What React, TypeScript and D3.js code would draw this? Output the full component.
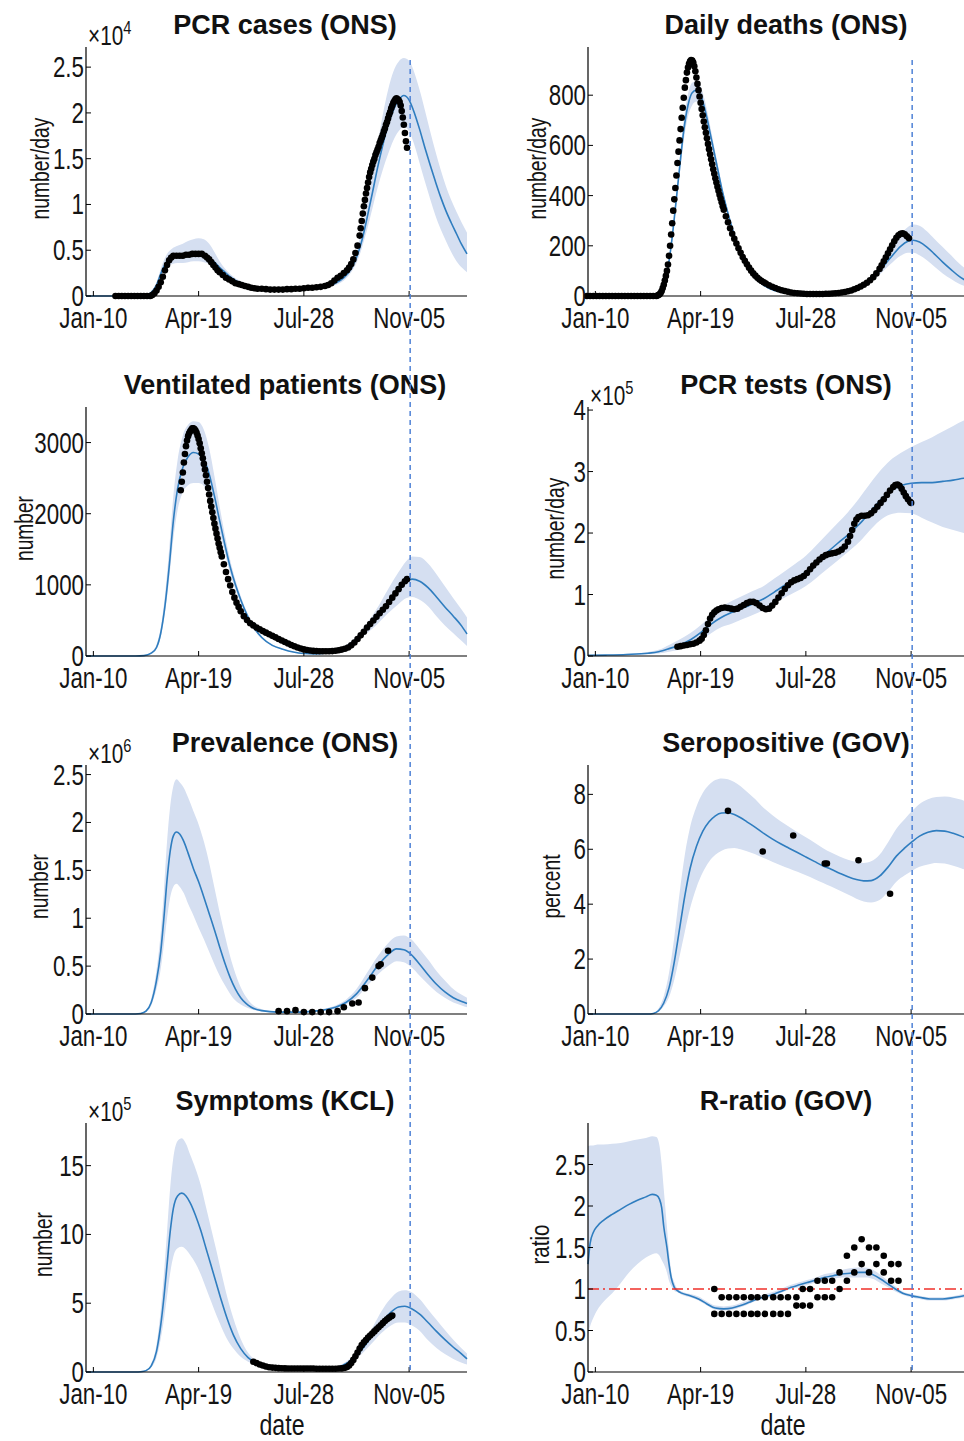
import React from "react";
import * as d3 from "d3";

// days counted from Jan-10 (2020)
type FitRow = [number, number, number, number]; // day, mean, lower, upper
type ObsRow = [number, number]; // day, value

const xTickDays = [0, 100, 200, 300];
const xTickLabels = ["Jan-10", "Apr-19", "Jul-28", "Nov-05"];
const xDomain: [number, number] = [-7, 355];
const cutoffDay = 301;

// ---- PCR cases (x1e4)
const casesTicks = [0, 0.5, 1, 1.5, 2, 2.5];
const casesFit: FitRow[] = [
    [-7, 0, 0, 0], [40, 0, 0, 0], [50, 0.01, 0.01, 0.01], [55, 0.04, 0.03, 0.05], [60, 0.12, 0.1, 0.15],
    [65, 0.27, 0.22, 0.33], [70, 0.38, 0.31, 0.46], [75, 0.43, 0.35, 0.52], [80, 0.44, 0.36, 0.55],
    [85, 0.44, 0.36, 0.57], [90, 0.45, 0.37, 0.6], [95, 0.46, 0.38, 0.62], [100, 0.46, 0.38, 0.63],
    [105, 0.45, 0.37, 0.62], [110, 0.42, 0.35, 0.57], [115, 0.37, 0.31, 0.48], [120, 0.31, 0.27, 0.38],
    [125, 0.26, 0.23, 0.3], [130, 0.21, 0.19, 0.24], [140, 0.14, 0.13, 0.16], [150, 0.1, 0.09, 0.11],
    [160, 0.08, 0.07, 0.09], [175, 0.07, 0.065, 0.08], [190, 0.075, 0.07, 0.085], [205, 0.085, 0.08, 0.095],
    [220, 0.1, 0.09, 0.115], [230, 0.14, 0.12, 0.16], [238, 0.2, 0.17, 0.24], [245, 0.3, 0.26, 0.36],
    [250, 0.42, 0.36, 0.5], [255, 0.6, 0.52, 0.72], [260, 0.85, 0.72, 1.0], [265, 1.12, 0.95, 1.32],
    [270, 1.4, 1.18, 1.66], [275, 1.65, 1.38, 1.98], [280, 1.87, 1.55, 2.25], [285, 2.03, 1.7, 2.45],
    [290, 2.14, 1.8, 2.56], [295, 2.19, 1.85, 2.6], [300, 2.14, 1.8, 2.57], [305, 2.0, 1.65, 2.44],
    [310, 1.82, 1.45, 2.25], [315, 1.62, 1.25, 2.03], [320, 1.43, 1.06, 1.8], [325, 1.25, 0.88, 1.58],
    [330, 1.08, 0.73, 1.38], [335, 0.93, 0.6, 1.2], [340, 0.8, 0.48, 1.05], [345, 0.68, 0.38, 0.92],
    [350, 0.56, 0.31, 0.8], [355, 0.46, 0.26, 0.69],
];
const casesObs: ObsRow[] = [
    [21, 0], [24, 0], [27, 0], [30, 0], [33, 0], [36, 0], [39, 0], [42, 0], [45, 0], [48, 0], [51, 0], [54, 0],
    [56, 0.01], [58, 0.03], [60, 0.06], [62, 0.1], [64, 0.15], [66, 0.21], [68, 0.28], [70, 0.34], [72, 0.39],
    [74, 0.42], [76, 0.44], [79, 0.44], [82, 0.44], [85, 0.44], [88, 0.45], [91, 0.45], [94, 0.46], [97, 0.46],
    [100, 0.46], [103, 0.46], [106, 0.44], [108, 0.42], [110, 0.4], [112, 0.37], [114, 0.34], [116, 0.31],
    [118, 0.28], [120, 0.26], [123, 0.23], [126, 0.2], [129, 0.18], [132, 0.16], [135, 0.14], [138, 0.13],
    [141, 0.12], [144, 0.11], [147, 0.1], [150, 0.09], [153, 0.085], [156, 0.08], [160, 0.08], [164, 0.075],
    [168, 0.07], [172, 0.07], [176, 0.07], [180, 0.07], [184, 0.075], [188, 0.075], [192, 0.08], [196, 0.08],
    [200, 0.085], [204, 0.09], [208, 0.09], [212, 0.095], [216, 0.1], [220, 0.11], [223, 0.12], [226, 0.14],
    [229, 0.17], [232, 0.2], [235, 0.22], [238, 0.25], [241, 0.28], [243, 0.31], [245, 0.35], [247, 0.4],
    [249, 0.47], [251, 0.55], [253, 0.66], [254, 0.74], [255, 0.82], [256, 0.9], [257, 0.98], [258, 1.05],
    [259, 1.12], [260, 1.18], [261, 1.24], [262, 1.3], [263, 1.35], [264, 1.39], [265, 1.43], [266, 1.47],
    [267, 1.5], [268, 1.54], [269, 1.57], [270, 1.6], [271, 1.63], [272, 1.67], [273, 1.7], [274, 1.73],
    [275, 1.76], [276, 1.8], [277, 1.83], [278, 1.87], [279, 1.9], [280, 1.94], [281, 1.98], [282, 2.01],
    [283, 2.05], [284, 2.08], [285, 2.11], [286, 2.13], [287, 2.15], [288, 2.16], [289, 2.15], [290, 2.14],
    [291, 2.12], [292, 2.08], [293, 2.02], [294, 1.95], [295, 1.87], [296, 1.78], [297, 1.69], [298, 1.62],
];

// ---- Daily deaths
const deathsTicks = [0, 200, 400, 600, 800];
const deathsFit: FitRow[] = [
    [-7, 0, 0, 0], [50, 0, 0, 0], [56, 2, 2, 3], [60, 8, 7, 10], [64, 30, 27, 35], [68, 90, 82, 100],
    [72, 200, 185, 215], [76, 350, 330, 372], [80, 510, 480, 540], [84, 660, 620, 700], [88, 760, 715, 805],
    [92, 810, 760, 850], [96, 820, 775, 855], [100, 800, 760, 835], [104, 745, 710, 780], [108, 670, 640, 700],
    [112, 590, 565, 615], [116, 510, 490, 530], [120, 430, 415, 445], [125, 345, 333, 357], [130, 270, 260, 280],
    [135, 205, 197, 213], [140, 152, 146, 158], [145, 112, 107, 117], [150, 80, 76, 84], [160, 42, 40, 44],
    [170, 22, 21, 24], [180, 13, 12, 14], [195, 8, 7, 9], [210, 7, 6, 8], [225, 10, 9, 11], [240, 20, 18, 23],
    [250, 35, 31, 40], [260, 60, 52, 70], [270, 100, 85, 118], [280, 150, 125, 180], [290, 198, 160, 245],
    [297, 218, 172, 275], [302, 222, 172, 285], [308, 215, 162, 280], [315, 195, 142, 258], [322, 168, 118, 228],
    [330, 135, 90, 195], [338, 105, 68, 162], [346, 77, 48, 128], [355, 55, 34, 100],
];
const deathsObs: ObsRow[] = [
    [-8, 0], [-5, 0], [-2, 0], [1, 0], [4, 0], [7, 0], [10, 0], [13, 0], [16, 0], [19, 0], [22, 0], [25, 0],
    [28, 0], [31, 0], [34, 0], [37, 0], [40, 0], [43, 0], [46, 0], [49, 0], [52, 0], [55, 0], [58, 0],
    [59, 2], [60, 4], [61, 7], [62, 12], [63, 20], [64, 32], [65, 45], [66, 62], [67, 80], [68, 100], [69, 125],
    [70, 160], [71, 200], [72, 245], [73, 290], [74, 340], [75, 385], [76, 430], [77, 480], [78, 530], [79, 575],
    [80, 620], [81, 665], [82, 710], [83, 750], [84, 790], [85, 830], [86, 860], [87, 890], [88, 910], [89, 925],
    [90, 935], [91, 940], [92, 938], [93, 930], [94, 915], [95, 895], [96, 870], [97, 845], [98, 820], [99, 795],
    [100, 770], [101, 745], [102, 720], [103, 695], [104, 672], [105, 650], [106, 628], [107, 606], [108, 585],
    [109, 565], [110, 545], [111, 525], [112, 505], [113, 487], [114, 469], [115, 452], [116, 435], [117, 419],
    [118, 403], [119, 388], [120, 373], [121, 358], [122, 344], [124, 318], [126, 294], [128, 270], [130, 248],
    [132, 228], [134, 209], [136, 190], [138, 172], [140, 155], [142, 140], [144, 126], [146, 113], [148, 101],
    [150, 90], [152, 81], [154, 73], [156, 66], [158, 60], [160, 55], [162, 50], [165, 43], [168, 37], [171, 32],
    [174, 27], [177, 23], [180, 20], [183, 17], [186, 14], [189, 12], [192, 11], [195, 10], [198, 9], [201, 8],
    [204, 8], [207, 8], [210, 8], [213, 8], [216, 8], [219, 9], [222, 9], [225, 10], [228, 11], [231, 12],
    [234, 14], [237, 16], [240, 19], [243, 22], [246, 27], [249, 32], [252, 38], [255, 45], [258, 53], [261, 63],
    [264, 75], [267, 90], [270, 108], [272, 122], [274, 138], [276, 154], [278, 170], [280, 186], [282, 202],
    [284, 218], [286, 232], [288, 242], [290, 248], [292, 250], [294, 246], [296, 238], [298, 230],
];

// ---- Ventilated patients
const ventTicks = [0, 1000, 2000, 3000];
const ventFit: FitRow[] = [
    [-7, 0, 0, 0], [40, 0, 0, 0], [48, 5, 4, 7], [55, 40, 32, 55], [60, 120, 100, 160], [64, 320, 270, 400],
    [68, 700, 600, 850], [72, 1250, 1080, 1500], [76, 1900, 1650, 2250], [80, 2350, 2050, 2750],
    [85, 2650, 2300, 3100], [90, 2800, 2400, 3250], [95, 2860, 2430, 3300], [100, 2840, 2430, 3290],
    [105, 2760, 2390, 3180], [110, 2560, 2260, 2920], [115, 2250, 2020, 2530], [120, 1900, 1730, 2100],
    [125, 1560, 1440, 1700], [130, 1250, 1160, 1350], [135, 1000, 935, 1070], [140, 790, 740, 845],
    [145, 610, 570, 650], [150, 460, 430, 490], [160, 260, 242, 278], [170, 150, 140, 160], [180, 95, 88, 102],
    [190, 55, 50, 60], [200, 35, 31, 39], [210, 30, 27, 34], [220, 40, 36, 45], [230, 70, 62, 80],
    [240, 130, 112, 150], [250, 240, 200, 280], [260, 390, 320, 460], [270, 560, 450, 680], [280, 760, 600, 940],
    [290, 940, 730, 1180], [297, 1050, 810, 1330], [303, 1080, 830, 1400], [310, 1050, 790, 1390],
    [318, 960, 700, 1300], [326, 830, 560, 1150], [334, 690, 430, 980], [342, 560, 320, 810],
    [350, 420, 210, 650], [355, 310, 140, 540],
];
const ventObs: ObsRow[] = [
    [83, 2330], [84, 2450], [85, 2580], [86, 2720], [87, 2840], [88, 2950], [89, 3030], [90, 3090], [91, 3130],
    [92, 3160], [93, 3180], [94, 3200], [95, 3200], [96, 3190], [97, 3170], [98, 3140], [99, 3100], [100, 3050],
    [101, 2990], [102, 2920], [103, 2850], [104, 2780], [105, 2700], [106, 2620], [107, 2540], [108, 2450],
    [109, 2360], [110, 2270], [111, 2180], [112, 2100], [113, 2020], [114, 1940], [115, 1860], [116, 1790],
    [117, 1720], [118, 1650], [119, 1580], [120, 1520], [121, 1460], [122, 1400], [124, 1290], [126, 1180],
    [128, 1080], [130, 990], [132, 900], [134, 820], [136, 750], [138, 690], [140, 630], [143, 560], [146, 505],
    [149, 460], [152, 430], [155, 400], [158, 375], [161, 350], [164, 328], [167, 305], [170, 283], [173, 262],
    [176, 240], [179, 218], [182, 196], [185, 175], [188, 155], [191, 136], [194, 120], [197, 105], [200, 93],
    [203, 84], [206, 77], [209, 72], [212, 69], [215, 67], [218, 66], [221, 66], [224, 67], [227, 69], [230, 73],
    [233, 80], [236, 90], [239, 102], [242, 120], [245, 150], [248, 190], [251, 240], [254, 290], [257, 340],
    [260, 400], [263, 450], [266, 500], [269, 550], [272, 600], [275, 650], [278, 700], [281, 760], [284, 820],
    [287, 880], [290, 940], [293, 1000], [296, 1050], [298, 1080],
];

// ---- PCR tests (x1e5)
const testsTicks = [0, 1, 2, 3, 4];
const testsFit: FitRow[] = [
    [-7, 0.01, 0.005, 0.015], [10, 0.015, 0.01, 0.02], [30, 0.025, 0.015, 0.035], [50, 0.045, 0.03, 0.065],
    [60, 0.07, 0.04, 0.1], [70, 0.12, 0.07, 0.18], [80, 0.18, 0.1, 0.27], [90, 0.26, 0.16, 0.37],
    [100, 0.38, 0.25, 0.5], [110, 0.52, 0.37, 0.66], [120, 0.63, 0.47, 0.8], [130, 0.71, 0.53, 0.9],
    [140, 0.78, 0.6, 0.98], [150, 0.85, 0.67, 1.06], [160, 0.93, 0.75, 1.14], [170, 1.04, 0.85, 1.26],
    [180, 1.15, 0.95, 1.38], [190, 1.25, 1.04, 1.5], [200, 1.37, 1.14, 1.63], [210, 1.52, 1.27, 1.8],
    [220, 1.68, 1.41, 1.98], [230, 1.83, 1.55, 2.16], [240, 1.97, 1.69, 2.34], [250, 2.13, 1.84, 2.55],
    [260, 2.32, 2.03, 2.78], [270, 2.52, 2.2, 3.0], [280, 2.68, 2.3, 3.18], [290, 2.77, 2.33, 3.3],
    [300, 2.81, 2.32, 3.4], [310, 2.82, 2.25, 3.48], [320, 2.82, 2.17, 3.56], [330, 2.84, 2.1, 3.65],
    [340, 2.86, 2.05, 3.74], [350, 2.89, 2.0, 3.83], [355, 2.9, 1.98, 3.86],
];
const testsObs: ObsRow[] = [
    [78, 0.15], [81, 0.16], [84, 0.17], [87, 0.18], [90, 0.19], [93, 0.2], [96, 0.22], [99, 0.25], [101, 0.28],
    [103, 0.34], [105, 0.42], [107, 0.52], [109, 0.61], [111, 0.67], [113, 0.71], [115, 0.74], [117, 0.76],
    [120, 0.78], [123, 0.79], [126, 0.78], [129, 0.77], [132, 0.76], [135, 0.77], [138, 0.8], [141, 0.83],
    [144, 0.86], [147, 0.88], [150, 0.88], [153, 0.86], [156, 0.82], [159, 0.78], [162, 0.76], [165, 0.77],
    [168, 0.82], [171, 0.88], [174, 0.95], [177, 1.02], [180, 1.09], [183, 1.15], [186, 1.2], [189, 1.23],
    [192, 1.25], [195, 1.27], [198, 1.3], [201, 1.35], [204, 1.41], [207, 1.47], [210, 1.52], [213, 1.57],
    [216, 1.61], [219, 1.64], [222, 1.66], [225, 1.67], [228, 1.68], [231, 1.7], [234, 1.73], [237, 1.78],
    [240, 1.86], [242, 1.95], [244, 2.05], [246, 2.15], [248, 2.22], [250, 2.26], [253, 2.28], [256, 2.28],
    [259, 2.29], [262, 2.32], [265, 2.37], [268, 2.43], [271, 2.49], [274, 2.55], [277, 2.62], [280, 2.69],
    [283, 2.75], [285, 2.78], [287, 2.79], [289, 2.77], [291, 2.72], [293, 2.66], [295, 2.6], [297, 2.55],
    [299, 2.51], [300, 2.49],
];

// ---- Prevalence (x1e6)
const prevTicks = [0, 0.5, 1, 1.5, 2, 2.5];
const prevFit: FitRow[] = [
    [-7, 0, 0, 0], [40, 0, 0, 0], [45, 0.005, 0.004, 0.007], [50, 0.03, 0.02, 0.04], [55, 0.12, 0.09, 0.16],
    [60, 0.35, 0.26, 0.46], [64, 0.65, 0.47, 0.85], [67, 1.0, 0.72, 1.28], [70, 1.4, 1.0, 1.8],
    [73, 1.7, 1.22, 2.17], [76, 1.86, 1.33, 2.38], [79, 1.9, 1.36, 2.45], [82, 1.88, 1.33, 2.42],
    [86, 1.8, 1.26, 2.36], [90, 1.68, 1.15, 2.26], [95, 1.52, 1.03, 2.12], [100, 1.38, 0.9, 1.98],
    [105, 1.22, 0.78, 1.8], [110, 1.05, 0.65, 1.58], [115, 0.88, 0.52, 1.32], [120, 0.7, 0.4, 1.06],
    [125, 0.53, 0.3, 0.82], [130, 0.38, 0.21, 0.6], [135, 0.26, 0.14, 0.42], [140, 0.17, 0.1, 0.28],
    [145, 0.11, 0.07, 0.18], [150, 0.07, 0.05, 0.11], [160, 0.035, 0.025, 0.05], [175, 0.02, 0.015, 0.028],
    [195, 0.02, 0.015, 0.027], [210, 0.03, 0.022, 0.038], [220, 0.045, 0.035, 0.058], [230, 0.07, 0.055, 0.09],
    [240, 0.12, 0.1, 0.15], [250, 0.21, 0.17, 0.26], [260, 0.35, 0.29, 0.43], [270, 0.5, 0.41, 0.6],
    [280, 0.62, 0.5, 0.74], [288, 0.68, 0.55, 0.81], [295, 0.67, 0.54, 0.82], [302, 0.62, 0.49, 0.78],
    [310, 0.52, 0.4, 0.68], [318, 0.41, 0.31, 0.57], [326, 0.31, 0.23, 0.45], [334, 0.23, 0.17, 0.35],
    [342, 0.17, 0.12, 0.26], [350, 0.13, 0.09, 0.2], [355, 0.11, 0.07, 0.17],
];
const prevObs: ObsRow[] = [
    [176, 0.03], [184, 0.03], [192, 0.04], [200, 0.02], [208, 0.02], [216, 0.02], [224, 0.02], [232, 0.03],
    [238, 0.07], [246, 0.11], [252, 0.12], [258, 0.27], [265, 0.38], [271, 0.5], [273, 0.52], [280, 0.66],
];

// ---- Seropositive (percent)
const seroTicks = [0, 2, 4, 6, 8];
const seroFit: FitRow[] = [
    [-7, 0, 0, 0], [50, 0, 0, 0], [55, 0.02, 0.01, 0.03], [60, 0.12, 0.08, 0.2], [65, 0.4, 0.28, 0.65],
    [70, 0.95, 0.62, 1.5], [75, 1.9, 1.25, 2.8], [80, 3.1, 2.1, 4.4], [85, 4.3, 3.0, 5.8], [90, 5.3, 3.85, 6.8],
    [96, 6.1, 4.6, 7.55], [102, 6.65, 5.15, 8.05], [108, 7.0, 5.55, 8.35], [114, 7.22, 5.8, 8.52],
    [120, 7.32, 5.95, 8.58], [126, 7.33, 6.03, 8.55], [132, 7.27, 6.05, 8.45], [138, 7.15, 6.0, 8.3],
    [144, 7.0, 5.93, 8.1], [152, 6.8, 5.82, 7.82], [160, 6.58, 5.68, 7.5], [168, 6.38, 5.55, 7.25],
    [176, 6.2, 5.42, 7.02], [184, 6.04, 5.3, 6.82], [192, 5.88, 5.18, 6.62], [200, 5.72, 5.05, 6.44],
    [208, 5.56, 4.92, 6.25], [216, 5.4, 4.78, 6.05], [224, 5.27, 4.64, 5.88], [232, 5.13, 4.5, 5.74],
    [240, 5.0, 4.35, 5.62], [248, 4.9, 4.2, 5.54], [255, 4.85, 4.1, 5.5], [262, 4.86, 4.06, 5.56],
    [270, 5.02, 4.15, 5.8], [278, 5.35, 4.45, 6.25], [286, 5.75, 4.82, 6.75], [294, 6.05, 5.05, 7.1],
    [301, 6.28, 5.22, 7.4], [308, 6.48, 5.36, 7.65], [316, 6.62, 5.45, 7.82], [324, 6.68, 5.5, 7.9],
    [332, 6.66, 5.48, 7.92], [340, 6.58, 5.4, 7.88], [348, 6.47, 5.3, 7.8], [355, 6.35, 5.2, 7.7],
];
const seroObs: ObsRow[] = [
    [126, 7.4], [159, 5.92], [188, 6.5], [218, 5.48], [220, 5.48], [250, 5.6], [280, 4.38],
];

// ---- Symptoms (x1e5)
const sympTicks = [0, 5, 10, 15];
const sympFit: FitRow[] = [
    [-7, 0, 0, 0], [40, 0, 0, 0], [45, 0.02, 0.015, 0.03], [50, 0.1, 0.07, 0.14], [55, 0.45, 0.32, 0.6],
    [60, 1.5, 1.05, 2.0], [64, 3.4, 2.4, 4.5], [67, 5.4, 3.8, 7.1], [70, 7.8, 5.5, 10.2], [73, 10.2, 7.2, 13.4],
    [76, 11.9, 8.4, 15.6], [80, 12.8, 9.0, 16.8], [84, 13.0, 9.1, 17.0], [88, 12.8, 8.9, 16.6],
    [92, 12.3, 8.5, 15.8], [97, 11.4, 7.9, 14.8], [102, 10.3, 7.1, 13.6], [107, 9.0, 6.1, 12.0],
    [112, 7.7, 5.1, 10.4], [117, 6.4, 4.1, 8.8], [122, 5.1, 3.2, 7.1], [127, 3.9, 2.4, 5.5], [133, 2.7, 1.7, 3.9],
    [140, 1.7, 1.1, 2.4], [147, 1.05, 0.75, 1.4], [155, 0.65, 0.5, 0.82], [165, 0.4, 0.33, 0.48],
    [180, 0.25, 0.21, 0.3], [200, 0.2, 0.17, 0.24], [220, 0.22, 0.19, 0.26], [232, 0.35, 0.3, 0.42],
    [242, 0.7, 0.58, 0.85], [250, 1.2, 0.98, 1.45], [258, 1.9, 1.55, 2.3], [266, 2.75, 2.2, 3.35],
    [274, 3.6, 2.85, 4.45], [282, 4.3, 3.35, 5.3], [290, 4.72, 3.6, 5.85], [296, 4.78, 3.6, 5.95],
    [302, 4.62, 3.42, 5.82], [310, 4.2, 3.0, 5.3], [318, 3.6, 2.3, 4.55], [326, 2.95, 1.75, 3.8],
    [334, 2.35, 1.3, 3.05], [342, 1.8, 0.95, 2.35], [350, 1.3, 0.68, 1.7], [355, 0.95, 0.55, 1.35],
];
const sympObs: ObsRow[] = [
    [152, 0.75], [155, 0.65], [158, 0.55], [161, 0.47], [164, 0.4], [167, 0.35], [170, 0.32], [173, 0.3],
    [176, 0.28], [179, 0.27], [182, 0.26], [185, 0.25], [188, 0.25], [191, 0.25], [194, 0.25], [197, 0.25],
    [200, 0.25], [203, 0.25], [206, 0.25], [209, 0.25], [212, 0.24], [215, 0.24], [218, 0.24], [221, 0.24],
    [224, 0.24], [227, 0.24], [230, 0.24], [233, 0.25], [236, 0.26], [239, 0.3], [241, 0.36], [243, 0.48],
    [245, 0.65], [247, 0.88], [249, 1.15], [251, 1.42], [253, 1.7], [255, 1.95], [257, 2.15], [259, 2.33],
    [261, 2.5], [263, 2.65], [265, 2.8], [267, 2.95], [269, 3.1], [271, 3.25], [273, 3.4], [275, 3.55],
    [277, 3.7], [279, 3.83], [281, 3.95], [283, 4.05], [284, 4.1],
];

// ---- R-ratio
const ratioTicks = [0, 0.5, 1, 1.5, 2, 2.5];
const ratioFit: FitRow[] = [
    [-7, 1.3, 0.45, 2.72], [-5, 1.55, 0.55, 2.73], [-2, 1.68, 0.65, 2.73], [2, 1.76, 0.75, 2.74],
    [8, 1.83, 0.85, 2.74], [16, 1.9, 0.95, 2.75], [24, 1.96, 1.07, 2.76], [32, 2.02, 1.2, 2.78],
    [40, 2.07, 1.3, 2.8], [48, 2.11, 1.38, 2.82], [54, 2.14, 1.42, 2.84], [58, 2.13, 1.43, 2.83],
    [61, 2.08, 1.4, 2.72], [63, 1.98, 1.35, 2.5], [65, 1.75, 1.3, 2.2], [68, 1.5, 1.2, 1.75],
    [70, 1.3, 1.1, 1.45], [72, 1.14, 1.04, 1.22], [75, 1.02, 0.98, 1.08], [78, 0.98, 0.96, 1.0],
    [82, 0.95, 0.93, 0.97], [90, 0.92, 0.9, 0.94], [98, 0.88, 0.86, 0.91], [106, 0.82, 0.8, 0.85],
    [114, 0.77, 0.75, 0.8], [122, 0.76, 0.74, 0.79], [130, 0.77, 0.75, 0.8], [138, 0.8, 0.78, 0.83],
    [146, 0.84, 0.82, 0.87], [154, 0.88, 0.86, 0.91], [162, 0.91, 0.89, 0.94], [170, 0.94, 0.92, 0.97],
    [178, 0.98, 0.96, 1.01], [186, 1.02, 1.0, 1.05], [194, 1.05, 1.02, 1.08], [202, 1.08, 1.05, 1.11],
    [210, 1.11, 1.08, 1.14], [218, 1.14, 1.1, 1.18], [226, 1.16, 1.12, 1.2], [234, 1.18, 1.14, 1.23],
    [242, 1.19, 1.14, 1.25], [250, 1.2, 1.14, 1.26], [257, 1.2, 1.14, 1.26], [264, 1.17, 1.12, 1.23],
    [271, 1.12, 1.07, 1.17], [278, 1.06, 1.02, 1.1], [285, 1.0, 0.97, 1.03], [292, 0.95, 0.93, 0.97],
    [300, 0.92, 0.9, 0.94], [308, 0.9, 0.88, 0.92], [318, 0.88, 0.86, 0.9], [330, 0.88, 0.86, 0.9],
    [342, 0.9, 0.88, 0.92], [355, 0.93, 0.91, 0.95],
];
// weekly estimates: day, lower, upper
const ratioObsDays = [113, 120, 127, 134, 141, 148, 154, 161, 169, 176, 183, 191, 197, 204, 211, 218, 225, 232, 239, 246, 253, 260, 267, 274, 281, 288];
const ratioObsLow = [0.7, 0.7, 0.7, 0.7, 0.7, 0.7, 0.7, 0.7, 0.7, 0.7, 0.7, 0.8, 0.8, 0.8, 0.9, 0.9, 0.9, 1.0, 1.1, 1.2, 1.3, 1.2, 1.3, 1.2, 1.1, 1.1];
const ratioObsHigh = [1.0, 0.9, 0.9, 0.9, 0.9, 0.9, 0.9, 0.9, 0.9, 0.9, 0.9, 0.9, 1.0, 1.0, 1.1, 1.1, 1.1, 1.2, 1.4, 1.5, 1.6, 1.5, 1.5, 1.4, 1.3, 1.3];
const ratioObs: ObsRow[] = ratioObsDays.flatMap((d, i) => [[d, ratioObsLow[i]], [d, ratioObsHigh[i]]] as ObsRow[]);

// ---- layout
const PLOT_W = 381;
const PLOT_H = 249;
const COL_LEFT = [86, 588];
const ROW_TOP = [47, 407, 765, 1123];
const TITLE_X = [285, 786];

const FONT = "'Liberation Sans', Arial, Helvetica, sans-serif";
const NARROW = 0.77;
const TICK_FS = 29;
const BAND = "#d5dff1";
const LINE = "#2f7dbf";
const VLINE = "#4f82d6";
const INK = "#141414";

interface PanelDef {
    col: number;
    row: number;
    title: string;
    yLabel: string;
    yLabelX: number;
    yLabelLen: number;
    yMax: number;
    yTicks: number[];
    exponent?: string;
    fit: FitRow[];
    obs: ObsRow[];
    refOne?: boolean;
}

const panels: PanelDef[] = [
    { col: 0, row: 0, title: "PCR cases (ONS)", yLabel: "number/day", yLabelX: 49, yLabelLen: 102, yMax: 2.72, yTicks: casesTicks, exponent: "4", fit: casesFit, obs: casesObs },
    { col: 1, row: 0, title: "Daily deaths (ONS)", yLabel: "number/day", yLabelX: 546, yLabelLen: 102, yMax: 992, yTicks: deathsTicks, fit: deathsFit, obs: deathsObs },
    { col: 0, row: 1, title: "Ventilated patients (ONS)", yLabel: "number", yLabelX: 33, yLabelLen: 65, yMax: 3500, yTicks: ventTicks, fit: ventFit, obs: ventObs },
    { col: 1, row: 1, title: "PCR tests (ONS)", yLabel: "number/day", yLabelX: 564, yLabelLen: 102, yMax: 4.05, yTicks: testsTicks, exponent: "5", fit: testsFit, obs: testsObs },
    { col: 0, row: 2, title: "Prevalence (ONS)", yLabel: "number", yLabelX: 48, yLabelLen: 65, yMax: 2.6, yTicks: prevTicks, exponent: "6", fit: prevFit, obs: prevObs },
    { col: 1, row: 2, title: "Seropositive (GOV)", yLabel: "percent", yLabelX: 560, yLabelLen: 64, yMax: 9.07, yTicks: seroTicks, fit: seroFit, obs: seroObs },
    { col: 0, row: 3, title: "Symptoms (KCL)", yLabel: "number", yLabelX: 52, yLabelLen: 65, yMax: 18.1, yTicks: sympTicks, exponent: "5", fit: sympFit, obs: sympObs },
    { col: 1, row: 3, title: "R-ratio (GOV)", yLabel: "ratio", yLabelX: 549, yLabelLen: 40, yMax: 3.0, yTicks: ratioTicks, fit: ratioFit, obs: ratioObs, refOne: true },
];

const xScaleFor = (col: number) =>
    d3.scaleLinear().domain(xDomain).range([COL_LEFT[col], COL_LEFT[col] + PLOT_W]);

const Panel: React.FC<{ p: PanelDef }> = ({ p }) => {
    const left = COL_LEFT[p.col];
    const top = ROW_TOP[p.row];
    const bottom = top + PLOT_H;
    const x = xScaleFor(p.col);
    const y = d3.scaleLinear().domain([0, p.yMax]).range([bottom, top]);

    const area = d3.area<FitRow>()
        .x(d => x(d[0]))
        .y0(d => y(d[2]))
        .y1(d => y(d[3]))
        .curve(d3.curveMonotoneX);
    const line = d3.line<FitRow>()
        .x(d => x(d[0]))
        .y(d => y(d[1]))
        .curve(d3.curveMonotoneX);

    const yLabelCenter = (top + bottom) / 2 - 3;

    return (
        <g>
            <path d={area(p.fit) || ""} fill={BAND} stroke="none" />
            <path d={line(p.fit) || ""} fill="none" stroke={LINE} strokeWidth={1.6} />
            {p.refOne && (
                <line x1={left} x2={left + PLOT_W} y1={y(1)} y2={y(1)}
                    stroke="#f0302a" strokeWidth={1.5} strokeDasharray="11,4,2,4" />
            )}
            {p.obs.map((d, i) => (
                <circle key={i} cx={x(d[0])} cy={y(d[1])} r={3.3} fill="#000" />
            ))}

            {/* axes */}
            <line x1={left} x2={left} y1={top} y2={bottom} stroke="#000" strokeWidth={1.2} />
            <line x1={left} x2={left + PLOT_W} y1={bottom} y2={bottom} stroke="#000" strokeWidth={1.2} />
            {xTickDays.map((d, i) => (
                <g key={"xt" + i}>
                    <line x1={x(d)} x2={x(d)} y1={bottom} y2={bottom - 5} stroke="#000" strokeWidth={1} />
                    <text transform={`translate(${x(d)},${bottom + 32}) scale(${NARROW},1)`}
                        textAnchor="middle" fontSize={TICK_FS} fontFamily={FONT} fill={INK}>
                        {xTickLabels[i]}
                    </text>
                </g>
            ))}
            {p.yTicks.map((v, i) => (
                <g key={"yt" + i}>
                    <line x1={left} x2={left + 5} y1={y(v)} y2={y(v)} stroke="#000" strokeWidth={1} />
                    <text transform={`translate(${left - 2},${y(v) + 10}) scale(${NARROW},1)`}
                        textAnchor="end" fontSize={TICK_FS} fontFamily={FONT} fill={INK}>
                        {String(v)}
                    </text>
                </g>
            ))}
            {p.exponent && (
                <text transform={`translate(${left + 2},${top - 2}) scale(${NARROW},1)`}
                    fontSize={27} fontFamily={FONT} fill={INK}>
                    ×10<tspan fontSize={19} dy={-11}>{p.exponent}</tspan>
                </text>
            )}
            <text transform={`translate(${p.yLabelX},${yLabelCenter}) rotate(-90)`}
                textAnchor="middle" fontSize={25} fontFamily={FONT} fill={INK}
                textLength={p.yLabelLen} lengthAdjust="spacingAndGlyphs">
                {p.yLabel}
            </text>
            <text x={TITLE_X[p.col]} y={top - 13} textAnchor="middle" fontSize={27}
                fontWeight="bold" fontFamily={FONT} fill="#111">
                {p.title}
            </text>
            {p.row === 3 && (
                <text transform={`translate(${p.col === 0 ? 282 : 783},1435) scale(${NARROW},1)`}
                    textAnchor="middle" fontSize={30} fontFamily={FONT} fill={INK}>
                    date
                </text>
            )}
        </g>
    );
};

const App: React.FC = () => {
    return (
        <svg width={964} height={1441} style={{ position: "absolute", left: 0, top: 0, background: "#fff" }}>
            <rect x={0} y={0} width={964} height={1441} fill="#fff" />
            {panels.map((p, i) => <Panel key={i} p={p} />)}
            {[0, 1].map(col => {
                const x = xScaleFor(col);
                return (
                    <line key={"cut" + col} x1={x(cutoffDay)} x2={x(cutoffDay)} y1={60} y2={1373}
                        stroke={VLINE} strokeWidth={1.5} strokeDasharray="5,4" />
                );
            })}
        </svg>
    );
};

export default App;
